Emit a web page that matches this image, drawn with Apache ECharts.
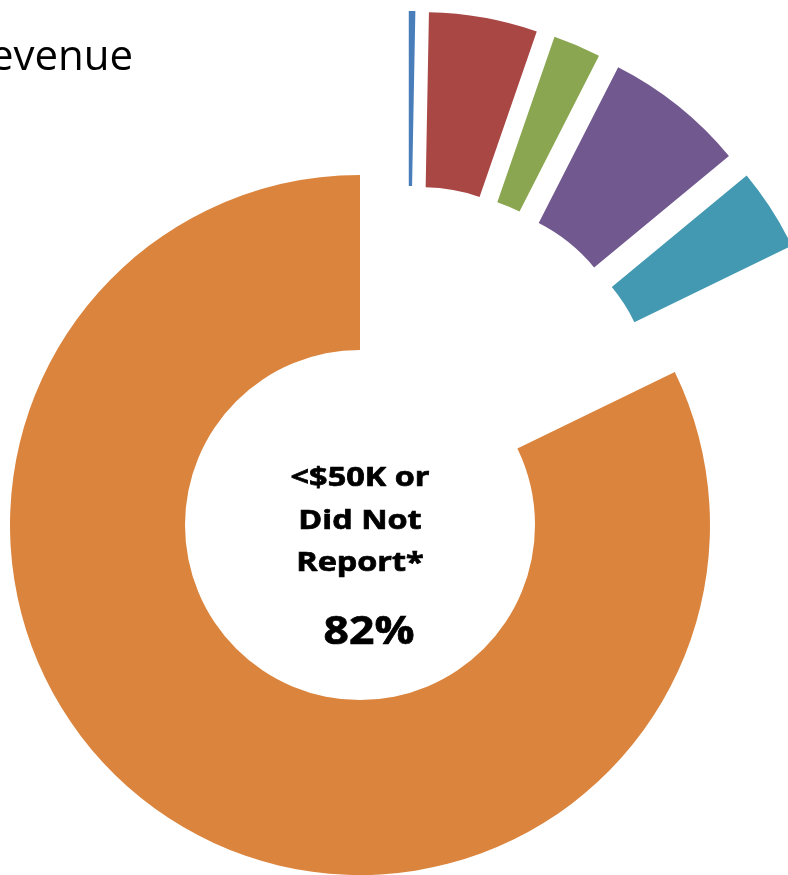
<!DOCTYPE html>
<html>
<head>
<meta charset="utf-8">
<script src="https://cdn.jsdelivr.net/npm/echarts@6/dist/echarts.min.js"></script>
<style>
  html, body { margin: 0; padding: 0; background: #fff; }
  #chart { width: 788px; height: 875px; }
</style>
</head>
<body>
<div id="chart"></div>
<script>
// 收入分段占比（%），顺时针从 12 点方向开始
const categories = ['Band 1', 'Band 2', 'Band 3', 'Band 4', 'Band 5', '<$50K or Did Not Report*']
const shares = [0.3, 5.0, 2.2, 6.5, 3.8, 82.2]
const colors = ['#4A7EBB', '#A94745', '#8AA650', '#71598F', '#4399B1', '#DB843D']
const mainIndex = 5
const centerLines = ['<$50K or', 'Did Not', 'Report*']
const centerValue = '82%'

const chart = echarts.init(document.getElementById('chart'))

const hidden = { color: 'rgba(0,0,0,0)' }

// 大块（橙色）单独一个系列，其它块透明占位
const mainData = categories.map((name, i) => ({
  name,
  value: shares[i],
  itemStyle: i === mainIndex ? { color: colors[i] } : hidden
}))

// 其它小块：整体外移 + 每块再按选中偏移炸开
const restData = categories.map((name, i) => ({
  name,
  value: shares[i],
  selected: i !== mainIndex,
  itemStyle: i === mainIndex ? hidden : { color: colors[i] }
}))

const basePie = {
  type: 'pie',
  radius: [175, 350],
  startAngle: 90,
  clockwise: true,
  avoidLabelOverlap: false,
  label: { show: false },
  labelLine: { show: false },
  itemStyle: { borderWidth: 0 },
  emphasis: { disabled: true },
  silent: true
}

// 中心文字（原图字体被横向拉宽，这里用 scaleX 近似）
const boldText = (text, x, y, size, sx) => ({
  type: 'text',
  x,
  y,
  scaleX: sx,
  style: {
    text,
    font: 'bold ' + size + 'px "Open Sans"',
    fill: '#000',
    stroke: '#000',
    lineWidth: 0.7,
    align: 'center',
    verticalAlign: 'middle'
  }
})

const lineY = [478.5, 521, 563]
const centerText = centerLines.map((t, i) => boldText(t, 360, lineY[i], 27, 1.2))

chart.setOption({
  animation: false,
  graphic: [
    {
      type: 'text',
      x: -36,
      y: 58,
      style: {
        text: 'Revenue',
        font: '42px "Open Sans"',
        fill: '#000',
        align: 'left',
        verticalAlign: 'middle'
      }
    },
    ...centerText,
    boldText(centerValue, 369, 633, 39, 1.14)
  ],
  series: [
    {
      ...basePie,
      center: [360, 525],
      data: mainData
    },
    {
      ...basePie,
      center: [408, 443],
      selectedMode: 'multiple',
      selectedOffset: 82,
      select: { itemStyle: { borderWidth: 0 } },
      data: restData
    }
  ]
})
</script>
</body>
</html>
